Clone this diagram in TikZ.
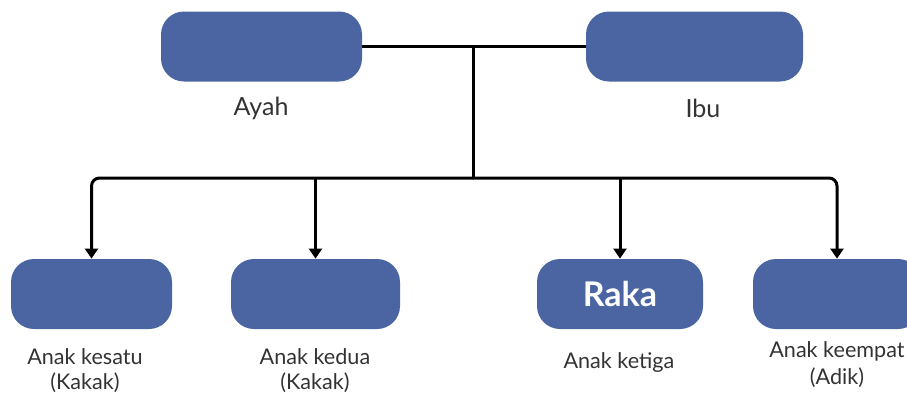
\documentclass[tikz,border=0pt]{standalone}
\usepackage{fontspec}
\setmainfont{Lato}
\usetikzlibrary{positioning,arrows.meta}
\definecolor{boxblue}{RGB}{74,101,161}
\definecolor{txtgray}{RGB}{51,51,51}
\tikzset{
	person/.style={fill=boxblue, rounded corners=11.5pt, minimum height=35pt, inner sep=0pt},
	lbl/.style={text=txtgray, font=\fontsize{10.8}{12.5}\selectfont, align=center},
	toplbl/.style={lbl, font=\fontsize{12.5}{15}\selectfont},
	link/.style={line width=1.5pt, black},
	down/.style={link, -{Triangle[width=6.5pt,length=5pt]}},
}
\begin{document}
\begin{tikzpicture}[x=0.5pt,y=-0.5pt]
	\useasboundingbox (0,0) rectangle (907,392);
	% orang tua
	\node[person, minimum width=100.5pt] (ayah) at (261.5,46.5) {};
	\node[person, minimum width=108.5pt] (ibu) at (694.5,46.5) {};
	\node[toplbl] (ayahlbl) at (261,108) {Ayah};
	\node[toplbl] (ibulbl) at (703,108) {Ibu};
	
	% anak
	\node[person, minimum width=80.5pt] (k1) at (91.5,294) {};
	\node[person, minimum width=84.5pt] (k2) at (315.5,294) {};
	\node[person, minimum width=83pt, text=white, font=\fontsize{17}{19}\selectfont\bfseries] (k3) at (620,294) {Raka};
	\node[person, minimum width=84pt] (k4) at (837,294) {};
	\node[lbl] (k1lbl) at (85,371) {Anak kesatu\\(Kakak)};
	\node[lbl] (k2lbl) at (315,371) {Anak kedua\\(Kakak)};
	\node[lbl] (k3lbl) at (619,363) {Anak ketiga};
	\node[lbl] (k4lbl) at (837,365) {Anak keempat\\[1pt](Adik)};
	
	\coordinate (mid) at (473,46.5);
	\coordinate (bus) at (473,178);
	\draw[link] (ayah.east) -- (ibu.west);
	\draw[link] (mid) -- (bus);
	\draw[down, rounded corners=4pt] (bus) -| (k1.north);
	\draw[down, rounded corners=4pt] (bus) -| (k4.north);
	\draw[down] (k2.north |- bus) -- (k2.north);
	\draw[down] (k3.north |- bus) -- (k3.north);
\end{tikzpicture}
\end{document}
